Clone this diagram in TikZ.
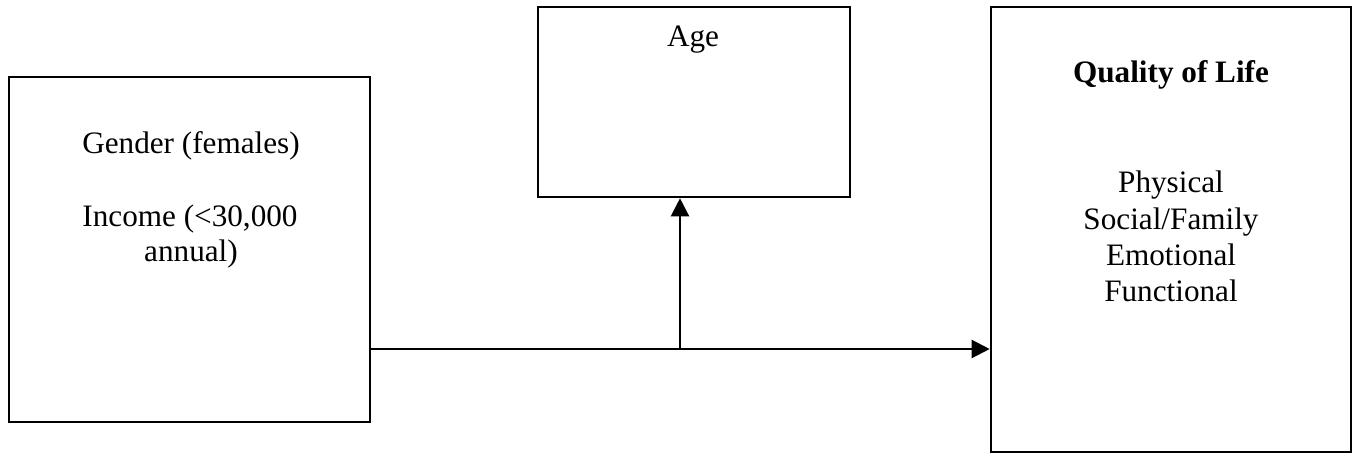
\documentclass[tikz,border=0pt]{standalone}
\usepackage{fontspec}
\setmainfont{Liberation Serif}
\usetikzlibrary{arrows.meta}
\begin{document}
\begin{tikzpicture}[x=0.5pt,y=-0.5pt,
  boxnode/.style={draw=black,line width=1.3pt,inner sep=0pt,fill=none},
  txt/.style={font=\fontsize{15.6pt}{18pt}\selectfont,anchor=base,inner sep=0pt},
  arr/.style={line width=1.1pt,-{Triangle[length=9pt,width=9pt]}}]
\useasboundingbox (0,0) rectangle (1359,454);
\node[boxnode,minimum width=180.5pt,minimum height=172.5pt] (left) at (189.5,249.5) {};
\node[boxnode,minimum width=156pt,minimum height=95pt] (age) at (694,102) {};
\node[boxnode,minimum width=180pt,minimum height=222.5pt] (qol) at (1171,229.5) {};
\node[txt] (t1) at (191,154) {Gender (females)};
\node[txt] (t2) at (190,227) {Income (<30,000};
\node[txt] (t3) at (191,262) {annual)};
\node[txt] (t4) at (693,47) {Age};
\node[txt,font=\fontsize{15.6pt}{18pt}\selectfont\bfseries] (t5) at (1171,83) {Quality of Life};
\node[txt] (t6) at (1171,193) {Physical};
\node[txt] (t7) at (1171,229) {Social/Family};
\node[txt] (t8) at (1171,265) {Emotional};
\node[txt] (t9) at (1171,301) {Functional};
\coordinate (j) at (680,349);
\draw[arr] (left.east |- j) -- (qol.west |- j);
\draw[arr] (j) -- (age.south -| j);
\end{tikzpicture}
\end{document}
